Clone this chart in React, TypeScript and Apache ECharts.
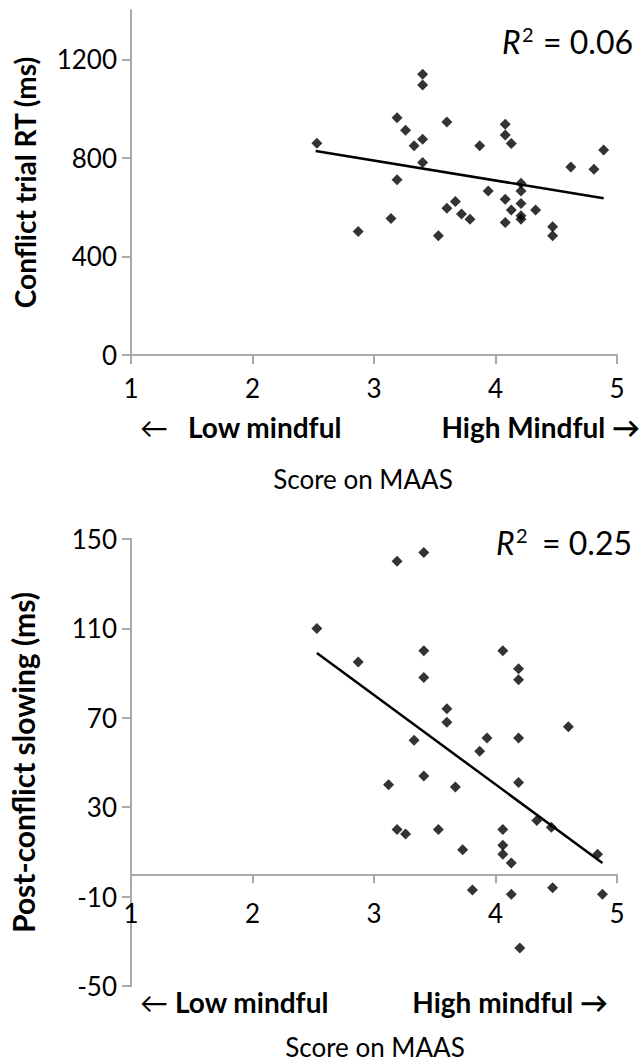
import React, { useEffect, useRef } from "react";
import * as echarts from "echarts";

// ---------- data ----------
const xTicks = [1, 2, 3, 4, 5];

// Panel 1: Conflict trial RT (ms) vs MAAS score
const topX = [2.53, 2.87, 3.14, 3.19, 3.19, 3.26, 3.33, 3.4, 3.4, 3.4, 3.4, 3.53, 3.6, 3.6, 3.67, 3.72, 3.79, 3.87, 3.94, 4.08, 4.08, 4.08, 4.08, 4.13, 4.13, 4.21, 4.21, 4.21, 4.21, 4.21, 4.33, 4.47, 4.47, 4.62, 4.81, 4.89];
const topY = [859, 501, 554, 711, 963, 912, 849, 876, 781, 1139, 1096, 484, 946, 596, 623, 572, 551, 849, 666, 936, 893, 632, 538, 858, 588, 697, 666, 615, 565, 551, 588, 520, 484, 763, 754, 832];
const topTrendX = [2.52, 4.89];
const topTrendY = [828, 636];
const topYTicks = [0, 400, 800, 1200];
const topR2 = "0.06";

// Panel 2: Post-conflict slowing (ms) vs MAAS score
const botX = [2.53, 2.87, 3.19, 3.41, 3.41, 3.41, 3.6, 3.6, 3.33, 3.93, 3.87, 4.06, 4.19, 4.19, 4.19, 4.19, 4.6, 3.12, 3.41, 3.67, 3.19, 3.26, 3.53, 3.73, 4.06, 4.06, 4.06, 4.13, 4.34, 4.46, 4.84, 3.81, 4.13, 4.47, 4.88, 4.2];
const botY = [110, 95, 140, 144, 100, 88, 74, 68, 60, 61, 55, 100, 92, 87, 61, 41, 66, 40, 44, 39, 20, 18, 20, 11, 20, 13, 9, 5, 24, 21, 9, -7, -9, -6, -9, -33];
const botTrendX = [2.53, 4.88];
const botTrendY = [99, 5];
const botYTicks = [-50, -10, 30, 70, 110, 150];
const botR2 = "0.25";

const FONT = "Lato";
const AXIS_COLOR = "#a9a9a9";
const TEXT = "#000";

// layout of the two plot areas
const TOP_GRID = { left: 131, right: 27, top: 10, height: 345 };
const BOT_GRID = { left: 131, right: 27, top: 539, height: 447 };
const BOT_MIN = -50;
const BOT_MAX = 150;

export default function App() {
  const ref = useRef<HTMLDivElement>(null);

  useEffect(() => {
    if (!ref.current) return;
    const chart = echarts.init(ref.current, undefined, { renderer: "svg" });

    const pairs = (xs: number[], ys: number[]) => xs.map((x, i) => [x, ys[i]]);

    const xAxisBase = (gridIndex: number, margin: number, offset: number) => ({
      gridIndex,
      type: "value",
      min: xTicks[0],
      max: xTicks[xTicks.length - 1],
      interval: 1,
      offset,
      axisLine: { onZero: false, lineStyle: { color: AXIS_COLOR, width: 2 } },
      axisTick: { length: 9, lineStyle: { color: AXIS_COLOR, width: 2 } },
      splitLine: { show: false },
      axisLabel: { fontSize: 26, fontFamily: FONT, color: TEXT, margin, formatter: (v: number) => String(v) },
    });

    const yAxisBase = (gridIndex: number, min: number, max: number, ticks: number[], name: string, nameGap: number, nameSize: number) => ({
      gridIndex,
      type: "value",
      min,
      max,
      axisLine: { show: true, onZero: false, lineStyle: { color: AXIS_COLOR, width: 2 } },
      axisTick: { show: true, length: 9, customValues: ticks, lineStyle: { color: AXIS_COLOR, width: 2 } },
      axisLabel: { customValues: ticks, fontSize: 26, fontFamily: FONT, color: TEXT, margin: 14, formatter: (v: number) => String(v) },
      splitLine: { show: false },
      name,
      nameLocation: "middle",
      nameGap,
      nameTextStyle: { fontSize: nameSize, fontWeight: "bold", fontFamily: FONT, color: TEXT },
    });

    // the lower panel's x axis crosses its y axis at 0
    const zeroOffset = -(BOT_GRID.height * (0 - BOT_MIN)) / (BOT_MAX - BOT_MIN);

    const r2 = (leftX: number, rightX: number, cy: number, val: string) => [
      { type: "text", left: leftX, top: cy - 19, style: { text: "R", font: `italic 32px ${FONT}`, fill: TEXT } },
      { type: "text", left: leftX + 20, top: cy - 20, style: { text: "2", font: `20px ${FONT}`, fill: TEXT } },
      { type: "text", right: 644 - rightX, top: cy - 19, style: { text: "= " + val, font: `32px ${FONT}`, fill: TEXT } },
    ];

    const subLabels = (cy: number, arrowX: number, lowX: number, highRight: number, high: string, titleCx: number, titleCy: number) => [
      { type: "text", left: arrowX, top: cy - 17, style: { text: "←", font: `28px ${FONT}`, fill: TEXT } },
      { type: "text", left: lowX, top: cy - 17, style: { text: "Low mindful", font: `bold 28px ${FONT}`, fill: TEXT } },
      { type: "text", right: 644 - highRight, top: cy - 17, style: { text: high, font: `bold 28px ${FONT}`, fill: TEXT } },
      { type: "text", x: titleCx, y: titleCy, style: { text: "Score on MAAS", font: `26px ${FONT}`, fill: TEXT, textAlign: "center", textVerticalAlign: "middle" } },
    ];

    chart.setOption({
      animation: false,
      backgroundColor: "#fff",
      grid: [TOP_GRID, BOT_GRID],
      xAxis: [xAxisBase(0, 20, 0), xAxisBase(1, 26, zeroOffset)],
      yAxis: [
        yAxisBase(0, 0, 1400, topYTicks, "Conflict trial RT (ms)", 92, 28),
        yAxisBase(1, BOT_MIN, BOT_MAX, botYTicks, "Post-conflict slowing (ms)", 93, 30),
      ],
      series: [
        {
          type: "scatter", xAxisIndex: 0, yAxisIndex: 0,
          data: pairs(topX, topY), symbol: "diamond", symbolSize: 11,
          itemStyle: { color: "#000" },
        },
        {
          type: "line", xAxisIndex: 0, yAxisIndex: 0,
          data: pairs(topTrendX, topTrendY), symbol: "none",
          lineStyle: { color: "#000", width: 2.5 },
        },
        {
          type: "scatter", xAxisIndex: 1, yAxisIndex: 1,
          data: pairs(botX, botY), symbol: "diamond", symbolSize: 11,
          itemStyle: { color: "#000" },
        },
        {
          type: "line", xAxisIndex: 1, yAxisIndex: 1,
          data: pairs(botTrendX, botTrendY), symbol: "none",
          lineStyle: { color: "#000", width: 2.5 },
        },
      ],
      graphic: [
        ...r2(502, 633, 44, topR2),
        ...r2(496, 632, 545, botR2),
        ...subLabels(430, 140, 188, 640, "High Mindful →", 363, 479),
        ...subLabels(1005, 140, 175, 608, "High mindful →", 375, 1047),
      ],
    });

    return () => chart.dispose();
  }, []);

  return (
    <div
      ref={ref}
      style={{ position: "absolute", left: 0, top: 0, width: 644, height: 1064, background: "#fff" }}
    />
  );
}
